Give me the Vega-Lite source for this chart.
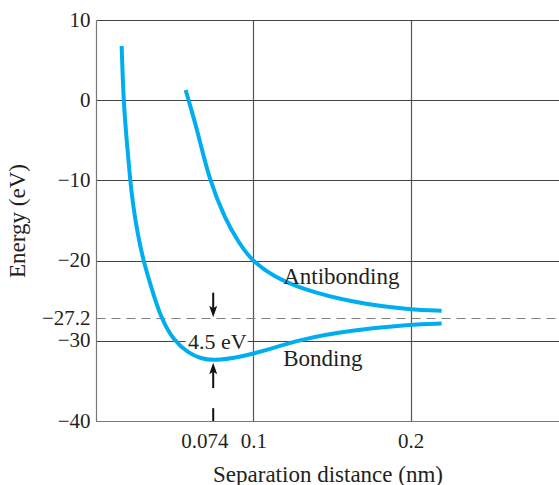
{
  "$schema": "https://vega.github.io/schema/vega-lite/v6.json",
  "width": 463,
  "height": 401,
  "autosize": {"type": "none"},
  "padding": {"left": 96, "top": 20, "right": 0, "bottom": 64},
  "background": "white",
  "config": {
    "view": {"stroke": null},
    "font": "Liberation Serif",
    "axis": {
      "labelFont": "Liberation Serif",
      "titleFont": "Liberation Serif",
      "labelFontSize": 21,
      "titleFontSize": 23,
      "titleFontWeight": "normal",
      "labelColor": "#231f20",
      "titleColor": "#231f20",
      "domainColor": "#777777",
      "domainWidth": 1.2,
      "ticks": false,
      "labelOverlap": false,
      "labelFlush": false,
      "labelBound": false
    }
  },
  "datasets": {
    "curves": [
      {"series": "Bonding", "r": 0.0163, "E": 6.76},
      {"series": "Bonding", "r": 0.0175, "E": -0.19},
      {"series": "Bonding", "r": 0.0195, "E": -4.96},
      {"series": "Bonding", "r": 0.0216, "E": -9.83},
      {"series": "Bonding", "r": 0.0237, "E": -13.28},
      {"series": "Bonding", "r": 0.0264, "E": -16.6},
      {"series": "Bonding", "r": 0.0301, "E": -20.01},
      {"series": "Bonding", "r": 0.0353, "E": -23.45},
      {"series": "Bonding", "r": 0.0415, "E": -27.28},
      {"series": "Bonding", "r": 0.0495, "E": -29.99},
      {"series": "Bonding", "r": 0.0591, "E": -31.56},
      {"series": "Bonding", "r": 0.0665, "E": -32.2},
      {"series": "Bonding", "r": 0.0748, "E": -32.5},
      {"series": "Bonding", "r": 0.0919, "E": -32.0},
      {"series": "Bonding", "r": 0.1046, "E": -31.4},
      {"series": "Bonding", "r": 0.1301, "E": -29.8},
      {"series": "Bonding", "r": 0.1619, "E": -28.7},
      {"series": "Bonding", "r": 0.2, "E": -27.95},
      {"series": "Bonding", "r": 0.2197, "E": -27.85},
      {"series": "Antibonding", "r": 0.057, "E": 1.27},
      {"series": "Antibonding", "r": 0.0591, "E": -0.19},
      {"series": "Antibonding", "r": 0.0644, "E": -3.72},
      {"series": "Antibonding", "r": 0.0718, "E": -9.86},
      {"series": "Antibonding", "r": 0.0824, "E": -14.94},
      {"series": "Antibonding", "r": 0.0898, "E": -17.43},
      {"series": "Antibonding", "r": 0.0983, "E": -19.9},
      {"series": "Antibonding", "r": 0.1129, "E": -22.0},
      {"series": "Antibonding", "r": 0.1301, "E": -23.5},
      {"series": "Antibonding", "r": 0.1619, "E": -25.2},
      {"series": "Antibonding", "r": 0.2, "E": -26.15},
      {"series": "Antibonding", "r": 0.2197, "E": -26.25}
    ],
    "arrowLines": [
      {"r": 0.0745, "E": -24.0, "E2": -26.0},
      {"r": 0.0745, "E": -33.4, "E2": -35.9},
      {"r": 0.0745, "E": -38.4, "E2": -40.0}
    ],
    "heads": [
      {"r": 0.0745, "E": -27.05, "dir": "down"},
      {"r": 0.0745, "E": -32.75, "dir": "up"}
    ],
    "curveLabels": [
      {"r": 0.119, "E": -22.96, "text": "Antibonding"},
      {"r": 0.119, "E": -33.1, "text": "Bonding"}
    ],
    "gapLabel": [
      {"r": 0.0771, "E": -30.97, "text": "4.5 eV"}
    ],
    "gap": [
      {"r": 0.057, "r2": 0.0964, "E": -29.0, "E2": -31.0}
    ]
  },
  "layer": [
    {
      "data": {"name": "gap"},
      "mark": {"type": "rect", "color": "white"},
      "encoding": {
        "x": {
          "field": "r", "type": "quantitative",
          "scale": {"domain": [0, 0.2943], "nice": false, "zero": false},
          "axis": {
            "values": [0.074, 0.1, 0.2],
            "format": ".3~g",
            "labelPadding": 9,
            "labelOffset": {"condition": {"test": "datum.value < 0.09", "value": -8}, "value": 0},
            "grid": true,
            "gridColor": "#555555",
            "gridWidth": 1.2,
            "gridOpacity": {"condition": {"test": "datum.value < 0.09", "value": 0}, "value": 1},
            "titlePadding": 12
          },
          "title": "Separation distance (nm)"
        },
        "x2": {"field": "r2"},
        "y": {
          "field": "E", "type": "quantitative",
          "scale": {"domain": [-40, 10], "nice": false, "zero": false},
          "axis": {
            "values": [10, 0, -10, -20, -27.2, -30, -40],
            "format": ".3~g",
            "labelPadding": 6,
            "grid": true,
            "gridColor": {"condition": {"test": "datum.value < -27 && datum.value > -28", "value": "#808080"}, "value": "#444444"},
            "gridWidth": 1.2,
            "gridDash": {"condition": {"test": "datum.value < -27 && datum.value > -28", "value": [9, 6]}, "value": []},
            "titlePadding": 12
          },
          "title": "Energy (eV)"
        },
        "y2": {"field": "E2"}
      }
    },
    {
      "data": {"name": "curves"},
      "mark": {"type": "line", "color": "#00aeef", "strokeWidth": 4, "interpolate": "basis", "strokeCap": "butt"},
      "encoding": {
        "x": {"field": "r", "type": "quantitative", "title": "Separation distance (nm)"},
        "y": {"field": "E", "type": "quantitative", "title": "Energy (eV)"},
        "detail": {"field": "series"}
      }
    },
    {
      "data": {"name": "arrowLines"},
      "mark": {"type": "rule", "color": "#111111", "strokeWidth": 2},
      "encoding": {
        "x": {"field": "r", "type": "quantitative", "title": "Separation distance (nm)"},
        "y": {"field": "E", "type": "quantitative", "title": "Energy (eV)"},
        "y2": {"field": "E2"}
      }
    },
    {
      "data": {"name": "heads"},
      "transform": [{"filter": "datum.dir === 'down'"}],
      "mark": {"type": "point", "filled": true, "color": "#111111", "opacity": 1, "size": 100, "shape": "M0,0 L-0.8,-2.3 L0,-1.8 L0.8,-2.3 Z"},
      "encoding": {
        "x": {"field": "r", "type": "quantitative", "title": "Separation distance (nm)"},
        "y": {"field": "E", "type": "quantitative", "title": "Energy (eV)"}
      }
    },
    {
      "data": {"name": "heads"},
      "transform": [{"filter": "datum.dir === 'up'"}],
      "mark": {"type": "point", "filled": true, "color": "#111111", "opacity": 1, "size": 100, "shape": "M0,0 L-0.8,2.3 L0,1.8 L0.8,2.3 Z"},
      "encoding": {
        "x": {"field": "r", "type": "quantitative", "title": "Separation distance (nm)"},
        "y": {"field": "E", "type": "quantitative", "title": "Energy (eV)"}
      }
    },
    {
      "data": {"name": "curveLabels"},
      "mark": {"type": "text", "fontSize": 23, "color": "#231f20", "align": "left", "baseline": "alphabetic"},
      "encoding": {
        "x": {"field": "r", "type": "quantitative", "title": "Separation distance (nm)"},
        "y": {"field": "E", "type": "quantitative", "title": "Energy (eV)"},
        "text": {"field": "text"}
      }
    },
    {
      "data": {"name": "gapLabel"},
      "mark": {"type": "text", "fontSize": 22, "color": "#231f20", "align": "center", "baseline": "alphabetic"},
      "encoding": {
        "x": {"field": "r", "type": "quantitative", "title": "Separation distance (nm)"},
        "y": {"field": "E", "type": "quantitative", "title": "Energy (eV)"},
        "text": {"field": "text"}
      }
    }
  ]
}
